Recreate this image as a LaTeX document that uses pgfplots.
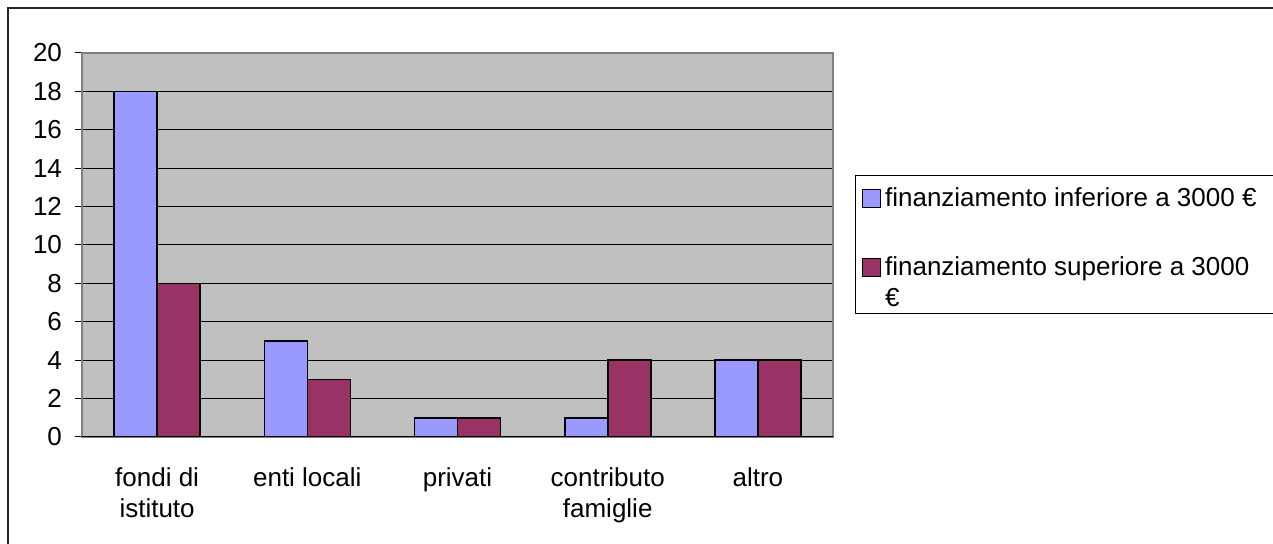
\documentclass[border=0pt]{standalone}
\usepackage{pgfplots}
\pgfplotsset{compat=1.18}
\usepackage{fontspec}
\setmainfont{Liberation Sans}
\definecolor{barblue}{HTML}{9999FF}
\definecolor{barred}{HTML}{993366}
\definecolor{plotgray}{HTML}{C0C0C0}
\definecolor{framegray}{HTML}{808080}
\begin{document}
\begin{tikzpicture}
\useasboundingbox (0,0) rectangle (636.5pt,272pt);
\draw[black!85, line width=1pt] (4pt,-20pt) rectangle (660pt,268pt);
\begin{axis}[
  at={(41pt,53.5pt)}, anchor=south west,
  scale only axis, width=375.5pt, height=192pt,
  xmin=0, xmax=5, ymin=0, ymax=20,
  ybar=0pt, bar width=21.5pt,
  axis background/.style={fill=plotgray},
  axis line style={draw=framegray, line width=1pt},
  ytick={0,2,...,20},
  ymajorgrids, grid style={black, line width=0.5pt},
  tick pos=left,
  tick align=outside, major tick length=3.5pt,
  tick style={black, line width=0.5pt},
  xtick={0.5,1.5,2.5,3.5,4.5},
  xticklabels={{fondi di\\istituto},{enti locali},{privati},{contributo\\famiglie},{altro}},
  x tick style={draw=none},
  extra x ticks={0,1,2,3,4,5},
  extra x tick labels={},
  extra x tick style={grid=none, tick style={draw=black, line width=0.5pt}},
  /pgf/number format/assume math mode=true,
  tick label style={font=\fontsize{13}{15.5}\selectfont},
  xticklabel style={align=center, yshift=-8.5pt},
  yticklabel style={xshift=-3pt},
  legend style={at={(1.0293,0.6823)}, anchor=north west, draw=black, line width=0.5pt,
    fill=white, font=\fontsize{13}{15.5}\selectfont, cells={align=left, anchor=base west},
    row sep=19.5pt, inner xsep=3pt, inner ysep=0pt},
]
\addplot[fill=barblue, draw=black, line width=0.8pt,
  legend image code/.code={\draw[fill=barblue, draw=black, line width=0.8pt] (0pt,-0.5pt) rectangle (9pt,8.5pt);}]
  coordinates {(0.5,18) (1.5,5) (2.5,1) (3.5,1) (4.5,4)};
\addlegendentry{\rule{0pt}{13.5pt}finanziamento inferiore a 3000 €\hspace{40pt}}
\addplot[fill=barred, draw=black, line width=0.8pt,
  legend image code/.code={\draw[fill=barred, draw=black, line width=0.8pt] (0pt,15pt) rectangle (9pt,24pt);}]
  coordinates {(0.5,8) (1.5,3) (2.5,1) (3.5,4) (4.5,4)};
\addlegendentry{finanziamento superiore a 3000\\€}
\draw[black, line width=0.6pt] (axis cs:0,0) -- (axis cs:5,0);
\end{axis}
\end{tikzpicture}
\end{document}
